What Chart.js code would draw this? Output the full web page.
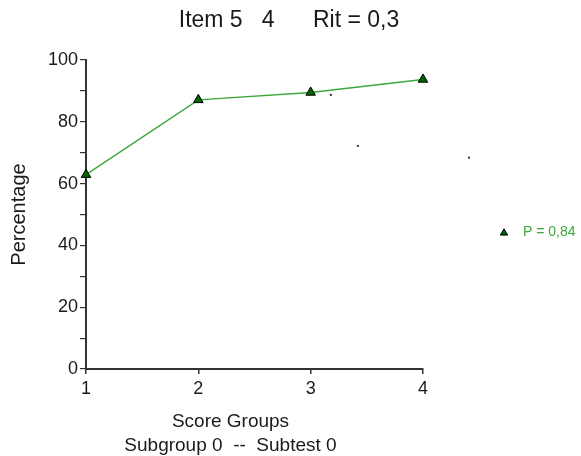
<!DOCTYPE html>
<html>
<head>
<meta charset="utf-8">
<script src="https://cdn.jsdelivr.net/npm/chart.js@4.4.1/dist/chart.umd.min.js"></script>
<style>
  html, body { margin: 0; padding: 0; background: #ffffff; }
  canvas { display: block; }
</style>
</head>
<body>
<canvas id="c" width="581" height="456"></canvas>
<script>
// ---- data ----
const scoreGroups = [1, 2, 3, 4];
const percentages = [62.9, 87.1, 89.5, 93.7];
const strayX = [3.18, 3.42, 4.41];
const strayY = [88.7, 72.2, 68.4];
const xTickValues = [1, 2, 3, 4];
const yLabelledTicks = [0, 20, 40, 60, 80, 100];
const titleText = 'Item 5   4      Rit = 0,3';
const legendLabel = 'P = 0,84';
const yTitleText = 'Percentage';
const xTitleLines = ['Score Groups', 'Subgroup 0  --  Subtest 0'];

// ---- styles ----
const FONT = "'Liberation Sans', Arial, sans-serif";
const lineGreen = '#3ea83e';
const markerFill = '#006600';
const axisColor = '#333333';
const textColor = '#1a1a1a';

const mainData = scoreGroups.map((x, i) => ({ x: x, y: percentages[i] }));

const extraText = {
  id: 'extraText',
  afterDatasetsDraw(chart) {
    // stray single-pixel marks, positioned through the chart's own scales
    const ctx = chart.ctx;
    const xs = chart.scales.x, ys = chart.scales.y;
    ctx.save();
    ctx.fillStyle = '#333333';
    strayX.forEach((xv, i) => {
      const px = xs.getPixelForValue(xv);
      const py = ys.getPixelForValue(strayY[i]);
      ctx.fillRect(px - 1, py - 1, 2, 2);
    });
    ctx.restore();
  },
  afterDraw(chart) {
    const ctx = chart.ctx;
    ctx.save();
    ctx.fillStyle = textColor;
    ctx.textAlign = 'center';
    ctx.textBaseline = 'middle';
    // main title
    ctx.font = '23px ' + FONT;
    ctx.fillText(titleText, 289, 21);
    // x-axis title (two lines)
    ctx.font = '19px ' + FONT;
    ctx.fillText(xTitleLines[0], 230.5, 422);
    ctx.fillText(xTitleLines[1], 230.5, 445.5);
    // legend
    const lx = 504, ly = 233, r = 4.2;
    ctx.beginPath();
    ctx.moveTo(lx, ly - r);
    ctx.lineTo(lx + r * Math.sin(2 * Math.PI / 3), ly - r * Math.cos(2 * Math.PI / 3));
    ctx.lineTo(lx + r * Math.sin(4 * Math.PI / 3), ly - r * Math.cos(4 * Math.PI / 3));
    ctx.closePath();
    ctx.fillStyle = markerFill;
    ctx.fill();
    ctx.lineWidth = 1;
    ctx.strokeStyle = '#000000';
    ctx.stroke();
    ctx.fillStyle = lineGreen;
    ctx.font = '14px ' + FONT;
    ctx.textAlign = 'left';
    ctx.fillText(legendLabel, 523, 232.5);
    ctx.restore();
  }
};

new Chart(document.getElementById('c'), {
  type: 'scatter',
  data: {
    datasets: [
      {
        label: legendLabel,
        data: mainData,
        showLine: true,
        borderColor: lineGreen,
        borderWidth: 1.5,
        pointStyle: 'triangle',
        pointRadius: 5.5,
        pointBackgroundColor: markerFill,
        pointBorderColor: '#000000',
        pointBorderWidth: 1,
        clip: false
      }
    ]
  },
  options: {
    responsive: false,
    animation: false,
    devicePixelRatio: 1,
    layout: { padding: { left: 0, right: 158, top: 60, bottom: 0 } },
    plugins: {
      legend: { display: false },
      tooltip: { enabled: false },
      title: { display: false }
    },
    scales: {
      x: {
        type: 'linear',
        min: 1,
        max: 4,
        afterBuildTicks(scale) {
          scale.ticks = xTickValues.map(v => ({ value: v }));
        },
        ticks: {
          color: textColor,
          font: { family: FONT, size: 18 },
          padding: 4,
          maxRotation: 0
        },
        grid: {
          drawOnChartArea: false,
          drawTicks: true,
          tickLength: 5,
          color: axisColor,
          lineWidth: 1.5
        },
        border: { display: true, color: axisColor, width: 2 },
        afterFit(scale) { scale.height = 87; }
      },
      y: {
        type: 'linear',
        min: 0,
        max: 100,
        ticks: {
          stepSize: 10,
          color: textColor,
          font: { family: FONT, size: 18 },
          padding: 2,
          callback: (v) => yLabelledTicks.includes(v) ? String(v) : ''
        },
        grid: {
          drawOnChartArea: false,
          drawTicks: true,
          tickLength: 6,
          color: axisColor,
          lineWidth: 1.2
        },
        border: { display: true, color: axisColor, width: 2 },
        title: {
          display: true,
          text: yTitleText,
          color: textColor,
          font: { family: FONT, size: 20 },
          padding: { top: 7, bottom: 0 }
        },
        afterFit(scale) { scale.width = 86; }
      }
    }
  },
  plugins: [extraText]
});
</script>
</body>
</html>
